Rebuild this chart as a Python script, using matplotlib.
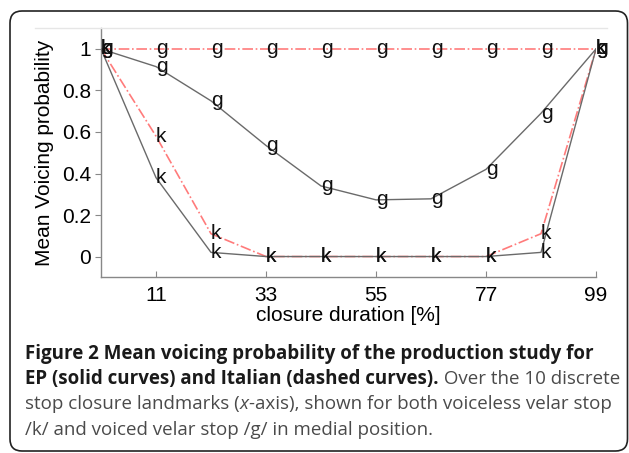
import matplotlib
matplotlib.use("Agg")
import matplotlib.pyplot as plt
import matplotlib.patches as mpatches
from matplotlib.lines import Line2D

# ---- data ----
closure = [0, 11, 22, 33, 44, 55, 66, 77, 88, 99]
ep_g = [1.0, 0.915, 0.75, 0.535, 0.34, 0.273, 0.278, 0.42, 0.69, 1.0]
ep_k = [1.0, 0.38, 0.02, 0.0, 0.0, 0.0, 0.0, 0.0, 0.02, 1.0]
it_g = [1.0, 1.0, 1.0, 1.0, 1.0, 1.0, 1.0, 1.0, 1.0, 1.0]
it_k = [1.0, 0.58, 0.11, 0.0, 0.0, 0.0, 0.0, 0.0, 0.11, 1.0]
xticks = [11, 33, 55, 77, 99]
yticks = [0, 0.2, 0.4, 0.6, 0.8, 1.0]
ytick_labels = ["0", "0.2", "0.4", "0.6", "0.8", "1"]

W, H = 629, 453
fig = plt.figure(figsize=(W / 100, H / 100), dpi=100)
fig.patch.set_facecolor("white")

ax = fig.add_axes([101 / W, 1 - 277.3 / H, (596 - 101) / W, (277.3 - 28.2) / H])
ax.set_xlim(0, 99)
ax.set_ylim(-0.1, 1.1)

chart_font = "Liberation Sans"
solid_col = "#6a6a6a"
dash_col = "#ff7b7b"

ax.plot(closure, it_g, linestyle="-.", color=dash_col, lw=1.2, zorder=2)
ax.plot(closure, it_k, linestyle="-.", color=dash_col, lw=1.2, zorder=2)
ax.plot(closure, ep_g, linestyle="-", color=solid_col, lw=1.0, zorder=3)
ax.plot(closure, ep_k, linestyle="-", color=solid_col, lw=1.0, zorder=3)

for series, letter in [(it_g, "g"), (it_k, "k"), (ep_g, "g"), (ep_k, "k")]:
    for xv, yv in zip(closure, series):
        ax.text(xv, yv, letter, ha="left", va="center", fontsize=15,
                family=chart_font, color="#111111", zorder=4, clip_on=False)

for s in ["top", "right"]:
    ax.spines[s].set_visible(False)
for s in ["left", "bottom"]:
    ax.spines[s].set_color("#888888")
    ax.spines[s].set_linewidth(1.0)

ax.set_xticks(xticks)
ax.set_xticklabels([str(v) for v in xticks], family=chart_font, fontsize=15)
ax.set_yticks(yticks)
ax.set_yticklabels(ytick_labels, family=chart_font, fontsize=15)
ax.tick_params(axis="x", direction="in", length=4, color="#888888", pad=6)
ax.tick_params(axis="y", direction="out", length=4, color="#888888", pad=3)
ax.set_xlabel("closure duration [%]", family=chart_font, fontsize=15, labelpad=1)
ax.set_ylabel("Mean Voicing probability", family=chart_font, fontsize=15, labelpad=6)

# faint top line of the embedded figure
fig.add_artist(Line2D([35, 607], [H - 27.5, H - 27.5], transform=None,
                      color="#e6e6e6", lw=1.0))

# rounded border
fig.add_artist(mpatches.FancyBboxPatch((10, 2), 617.5, H - 11 - 2,
                                       boxstyle="round,pad=0,rounding_size=12",
                                       transform=None, fill=False,
                                       edgecolor="#222222", lw=1.2))

# caption
cap_font = "Open Sans"
cap_size = 13.5
fig.canvas.draw()
renderer = fig.canvas.get_renderer()


def draw_line(segments, y_px, x_px=25):
    x = x_px
    for txt, weight, style, col in segments:
        t = fig.text(x, y_px, txt, transform=None, ha="left", va="center",
                     family=cap_font, fontsize=cap_size, fontweight=weight,
                     fontstyle=style, color=col)
        bb = t.get_window_extent(renderer=renderer)
        x = bb.x1


blk = "#1a1a1a"
gry = "#4a4a4a"
draw_line([("Figure 2 Mean voicing probability of the production study for", "bold", "normal", blk)], H - 354)
draw_line([("EP (solid curves) and Italian (dashed curves).", "bold", "normal", blk),
           (" Over the 10 discrete", "normal", "normal", gry)], H - 379)
draw_line([("stop closure landmarks (", "normal", "normal", gry),
           ("x", "normal", "italic", gry),
           ("-axis), shown for both voiceless velar stop", "normal", "normal", gry)], H - 404)
draw_line([("/k/ and voiced velar stop /g/ in medial position.", "normal", "normal", gry)], H - 430)

fig.savefig("out.png", dpi=100)
